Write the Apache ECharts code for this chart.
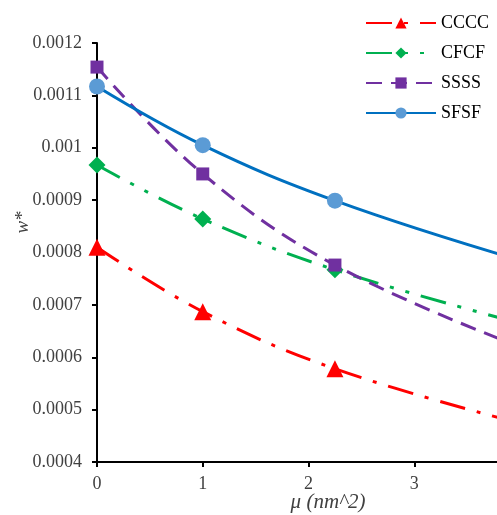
<!DOCTYPE html>
<html><head><meta charset="utf-8">
<script src="https://cdn.jsdelivr.net/npm/echarts@6/dist/echarts.min.js"></script>
<style>html,body{margin:0;padding:0;background:#fff;overflow:hidden;width:497px;height:515px}#c{width:520px;height:515px}</style>
</head><body><div id="c"></div>
<script>
const mu = [0, 1, 2.25, 4];
const CCCC = [0.000810, 0.000687, 0.000578, 0.000474];
const CFCF = [0.000967, 0.000864, 0.000767, 0.000665];
const SSSS = [0.001154, 0.000950, 0.000776, 0.000620];
const SFSF = [0.001117, 0.001005, 0.000899, 0.000785];
const yTicks = [0.0004, 0.0005, 0.0006, 0.0007, 0.0008, 0.0009, 0.001, 0.0011, 0.0012];
const xTicks = [0, 1, 2, 3, 4];

const pairs = arr => mu.map((m, i) => [m, arr[i]]);
const serif = 'Liberation Serif';
const chart = echarts.init(document.getElementById('c'));
function mk(name, data, color, mColor, sym, symSize, dash) {
  return {
    name, type: 'line', data: pairs(data), smooth: 0.4,
    symbol: sym, symbolSize: symSize, showSymbol: true,
    lineStyle: { color, width: 3, type: dash },
    itemStyle: { color: mColor, borderWidth: 0 },
    emphasis: { disabled: true }, animation: false
  };
}
chart.setOption({
  animation: false,
  grid: { left: 97, top: 43, bottom: 53, right: 0, containLabel: false, outerBoundsMode: 'none' },
  legend: {
    orient: 'vertical', left: 360, top: 9, itemWidth: 70, itemHeight: 14, itemGap: 12,
    textStyle: { fontFamily: serif, fontSize: 18, color: '#000' },
    data: ['CCCC', 'CFCF', 'SSSS', 'SFSF']
  },
  xAxis: {
    type: 'value', min: xTicks[0], max: xTicks[xTicks.length - 1], interval: 1,
    name: 'μ (nm^2)', nameLocation: 'middle', nameGap: 30, nameMoveOverlap: false,
    nameTextStyle: { fontFamily: serif, fontStyle: 'italic', fontSize: 21, color: '#404040', padding: [0, 0, 0, 39] },
    axisLine: { lineStyle: { color: '#000', width: 2 } },
    axisTick: { show: true, length: 5, lineStyle: { color: '#000', width: 2 } },
    axisLabel: { fontFamily: serif, fontSize: 18, color: '#404040', margin: 13 },
    splitLine: { show: false }
  },
  yAxis: {
    type: 'value', min: yTicks[0], max: yTicks[yTicks.length - 1], interval: 0.0001,
    name: 'w*', nameLocation: 'middle', nameGap: 65, nameRotate: 90, nameMoveOverlap: false,
    nameTextStyle: { fontFamily: serif, fontStyle: 'italic', fontSize: 19, color: '#404040', padding: [0, 0, 0, 60] },
    axisLine: { show: true, lineStyle: { color: '#000', width: 2 } },
    axisTick: { show: true, length: 5, lineStyle: { color: '#000', width: 2 } },
    axisLabel: { fontFamily: serif, fontSize: 18, color: '#404040', margin: 15,
      formatter: v => String(+v.toFixed(4)) },
    splitLine: { show: false }
  },
  series: [
    mk('CCCC', CCCC, '#ff0000', '#ff0000', 'triangle', 17, [26, 12, 4, 12]),
    mk('CFCF', CFCF, '#00b050', '#00b050', 'diamond', 17, [26, 12, 4, 12, 4, 12]),
    mk('SSSS', SSSS, '#7030a0', '#7030a0', 'rect', 13, [16, 9]),
    mk('SFSF', SFSF, '#0070c0', '#5b9bd5', 'circle', 16, 'solid')
  ]
});
</script></body></html>
